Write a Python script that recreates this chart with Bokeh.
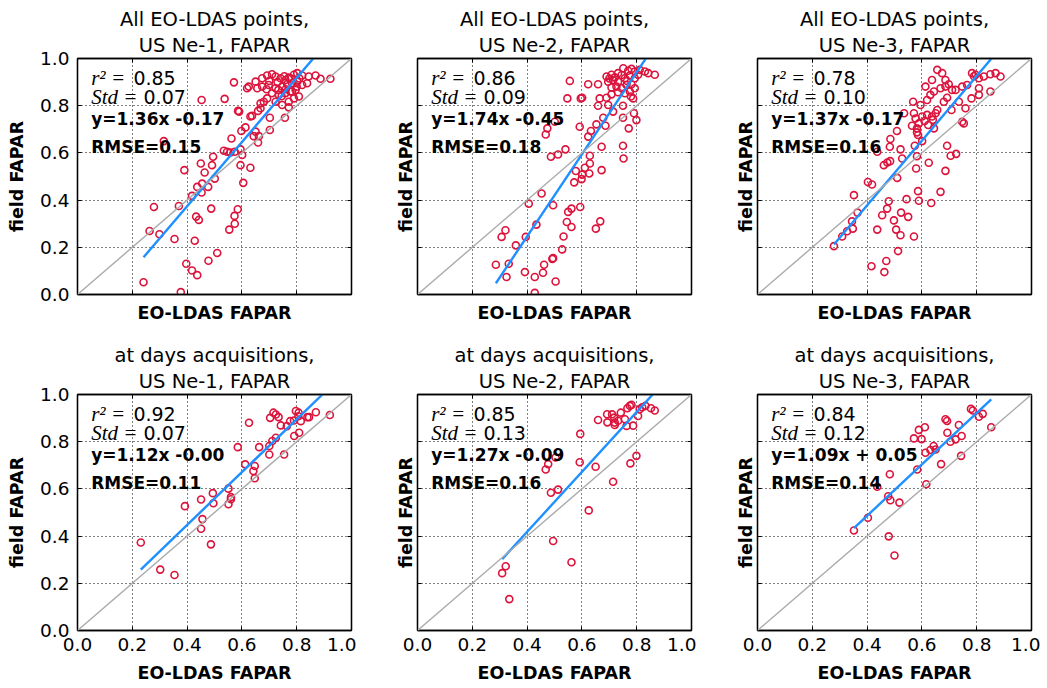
from bokeh.plotting import figure
from bokeh.layouts import gridplot
from bokeh.models import Range1d, FixedTicker, LinearAxis, Title, Slope, PrintfTickFormatter
from bokeh.core.properties import value
from bokeh.embed import file_html
from bokeh.resources import INLINE

# ---------------- data ----------------
sites = ["US Ne-1", "US Ne-2", "US Ne-3"]
row_titles = ["All EO-LDAS points,", "at days acquisitions,"]
x_label = "EO-LDAS FAPAR"
y_label = "field FAPAR"
r2 = [0.85, 0.86, 0.78, 0.92, 0.85, 0.84]
std = [0.07, 0.09, 0.10, 0.07, 0.13, 0.12]
slope = [1.36, 1.74, 1.37, 1.12, 1.27, 1.09]
intercept = [-0.17, -0.45, -0.17, -0.001, -0.09, 0.05]
rmse = [0.15, 0.18, 0.16, 0.11, 0.16, 0.14]
ticks = [0.0, 0.2, 0.4, 0.6, 0.8, 1.0]

pts_all_ne1 = [
    (0.571, 0.899), (0.453, 0.824), (0.537, 0.829), (0.586, 0.778), (0.590, 0.775), (0.631, 0.754),
    (0.637, 0.757), (0.659, 0.778), (0.619, 0.874), (0.625, 0.881), (0.613, 0.708), (0.598, 0.693),
    (0.650, 0.690), (0.662, 0.671), (0.659, 0.644), (0.643, 0.671), (0.702, 0.697), (0.562, 0.661),
    (0.315, 0.650), (0.534, 0.609), (0.546, 0.605), (0.558, 0.602), (0.574, 0.605), (0.595, 0.615),
    (0.601, 0.591), (0.495, 0.584), (0.595, 0.548), (0.631, 0.537), (0.450, 0.555), (0.491, 0.548),
    (0.390, 0.527), (0.464, 0.517), (0.501, 0.491), (0.455, 0.470), (0.437, 0.456), (0.477, 0.456),
    (0.605, 0.473), (0.453, 0.432), (0.418, 0.418), (0.370, 0.375), (0.279, 0.371), (0.488, 0.364),
    (0.585, 0.361), (0.573, 0.333), (0.433, 0.330), (0.443, 0.316), (0.574, 0.300), (0.554, 0.275),
    (0.263, 0.269), (0.299, 0.255), (0.354, 0.235), (0.428, 0.228), (0.510, 0.176), (0.478, 0.143),
    (0.397, 0.130), (0.418, 0.102), (0.437, 0.082), (0.241, 0.052), (0.377, 0.010), (0.757, 0.749),
    (0.702, 0.749), (0.668, 0.789), (0.680, 0.817), (0.692, 0.831), (0.650, 0.902), (0.674, 0.916),
    (0.692, 0.928), (0.710, 0.933), (0.723, 0.924), (0.741, 0.916), (0.759, 0.909), (0.771, 0.919),
    (0.790, 0.931), (0.802, 0.938), (0.820, 0.928), (0.844, 0.924), (0.869, 0.928), (0.887, 0.914),
    (0.923, 0.914), (0.656, 0.874), (0.674, 0.881), (0.698, 0.888), (0.723, 0.874), (0.747, 0.881),
    (0.765, 0.891), (0.783, 0.895), (0.802, 0.902), (0.820, 0.888), (0.838, 0.895), (0.710, 0.853),
    (0.735, 0.846), (0.759, 0.853), (0.777, 0.860), (0.796, 0.867), (0.723, 0.817), (0.747, 0.803),
    (0.771, 0.817), (0.790, 0.831), (0.808, 0.839), (0.668, 0.810), (0.771, 0.793), (0.783, 0.860),
    (0.733, 0.867), (0.700, 0.905), (0.730, 0.900), (0.755, 0.925), (0.780, 0.915), (0.810, 0.915),
    (0.690, 0.870), (0.760, 0.870), (0.745, 0.840), (0.800, 0.880),
]
pts_all_ne2 = [
    (0.556, 0.905), (0.623, 0.891), (0.659, 0.891), (0.547, 0.831), (0.596, 0.831), (0.601, 0.834),
    (0.665, 0.831), (0.659, 0.800), (0.696, 0.803), (0.708, 0.848), (0.690, 0.834), (0.750, 0.800),
    (0.779, 0.839), (0.787, 0.831), (0.714, 0.775), (0.790, 0.768), (0.678, 0.749), (0.750, 0.749),
    (0.799, 0.739), (0.501, 0.732), (0.474, 0.704), (0.468, 0.678), (0.592, 0.711), (0.653, 0.721),
    (0.686, 0.715), (0.633, 0.693), (0.623, 0.669), (0.771, 0.704), (0.672, 0.626), (0.750, 0.630),
    (0.540, 0.615), (0.513, 0.593), (0.487, 0.584), (0.629, 0.588), (0.752, 0.576), (0.629, 0.555),
    (0.611, 0.537), (0.578, 0.523), (0.672, 0.527), (0.601, 0.508), (0.627, 0.513), (0.599, 0.489),
    (0.572, 0.475), (0.453, 0.428), (0.406, 0.385), (0.495, 0.378), (0.562, 0.364), (0.550, 0.350),
    (0.594, 0.371), (0.667, 0.310), (0.651, 0.279), (0.545, 0.307), (0.562, 0.286), (0.434, 0.296),
    (0.321, 0.272), (0.307, 0.244), (0.395, 0.244), (0.359, 0.208), (0.533, 0.246), (0.528, 0.191),
    (0.495, 0.154), (0.492, 0.151), (0.333, 0.130), (0.286, 0.126), (0.462, 0.126), (0.458, 0.092),
    (0.392, 0.095), (0.325, 0.074), (0.428, 0.074), (0.504, 0.055), (0.428, 0.007), (0.690, 0.924),
    (0.708, 0.931), (0.732, 0.938), (0.751, 0.959), (0.769, 0.948), (0.781, 0.956), (0.793, 0.945),
    (0.811, 0.952), (0.830, 0.945), (0.842, 0.938), (0.866, 0.931), (0.696, 0.902), (0.714, 0.909),
    (0.732, 0.902), (0.757, 0.916), (0.775, 0.928), (0.793, 0.916), (0.805, 0.931), (0.708, 0.877),
    (0.726, 0.881), (0.745, 0.874), (0.763, 0.888), (0.781, 0.891), (0.793, 0.874), (0.732, 0.857),
    (0.757, 0.853), (0.775, 0.860), (0.720, 0.920), (0.745, 0.930), (0.765, 0.905), (0.700, 0.915),
]
pts_all_ne3 = [
    (0.279, 0.205), (0.309, 0.246), (0.327, 0.268), (0.348, 0.279), (0.345, 0.310), (0.365, 0.347),
    (0.352, 0.421), (0.403, 0.477), (0.418, 0.466), (0.437, 0.605), (0.461, 0.548), (0.474, 0.559),
    (0.484, 0.565), (0.485, 0.659), (0.483, 0.626), (0.522, 0.615), (0.509, 0.693), (0.528, 0.576),
    (0.510, 0.494), (0.479, 0.395), (0.473, 0.364), (0.455, 0.336), (0.498, 0.314), (0.524, 0.347),
    (0.550, 0.329), (0.544, 0.404), (0.437, 0.275), (0.506, 0.275), (0.522, 0.251), (0.571, 0.246),
    (0.513, 0.184), (0.416, 0.120), (0.470, 0.142), (0.463, 0.095), (0.586, 0.438), (0.589, 0.397),
    (0.634, 0.388), (0.668, 0.435), (0.686, 0.524), (0.579, 0.534), (0.625, 0.558), (0.582, 0.586),
    (0.574, 0.630), (0.601, 0.650), (0.692, 0.630), (0.725, 0.596), (0.705, 0.588), (0.582, 0.687),
    (0.582, 0.704), (0.586, 0.676), (0.564, 0.715), (0.589, 0.725), (0.601, 0.754), (0.619, 0.761),
    (0.637, 0.754), (0.650, 0.768), (0.656, 0.782), (0.577, 0.746), (0.571, 0.768), (0.595, 0.803),
    (0.619, 0.824), (0.631, 0.846), (0.644, 0.860), (0.668, 0.874), (0.686, 0.881), (0.710, 0.867),
    (0.613, 0.881), (0.637, 0.909), (0.656, 0.952), (0.674, 0.938), (0.686, 0.909), (0.698, 0.891),
    (0.723, 0.867), (0.747, 0.881), (0.765, 0.888), (0.783, 0.938), (0.796, 0.931), (0.808, 0.916),
    (0.826, 0.924), (0.850, 0.933), (0.869, 0.938), (0.887, 0.924), (0.808, 0.874), (0.850, 0.860),
    (0.808, 0.846), (0.781, 0.831), (0.759, 0.789), (0.747, 0.732), (0.753, 0.725), (0.708, 0.782),
    (0.692, 0.834), (0.623, 0.718), (0.644, 0.704), (0.680, 0.817), (0.568, 0.817), (0.535, 0.768),
    (0.735, 0.817), (0.640, 0.740), (0.610, 0.735), (0.790, 0.925),
]
pts_acq_ne1 = [
    (0.231, 0.373), (0.302, 0.258), (0.354, 0.235), (0.392, 0.527), (0.451, 0.555), (0.451, 0.431),
    (0.456, 0.472), (0.487, 0.365), (0.494, 0.582), (0.496, 0.539), (0.551, 0.601), (0.551, 0.535),
    (0.560, 0.556), (0.560, 0.565), (0.585, 0.777), (0.612, 0.704), (0.626, 0.880), (0.642, 0.676),
    (0.647, 0.697), (0.647, 0.645), (0.663, 0.777), (0.700, 0.746), (0.700, 0.782), (0.703, 0.901),
    (0.715, 0.923), (0.724, 0.915), (0.734, 0.904), (0.711, 0.803), (0.724, 0.817), (0.742, 0.869),
    (0.754, 0.746), (0.776, 0.887), (0.791, 0.824), (0.797, 0.930), (0.807, 0.923), (0.809, 0.838),
    (0.815, 0.887), (0.839, 0.904), (0.845, 0.904), (0.870, 0.925), (0.921, 0.913), (0.764, 0.866),
    (0.790, 0.890), (0.806, 0.908),
]
pts_acq_ne2 = [
    (0.335, 0.133), (0.309, 0.243), (0.322, 0.272), (0.495, 0.379), (0.562, 0.289), (0.625, 0.509),
    (0.487, 0.584), (0.513, 0.597), (0.468, 0.682), (0.477, 0.705), (0.504, 0.733), (0.592, 0.713),
    (0.594, 0.833), (0.650, 0.694), (0.714, 0.630), (0.777, 0.708), (0.799, 0.740), (0.659, 0.892),
    (0.692, 0.916), (0.710, 0.916), (0.693, 0.882), (0.720, 0.881), (0.720, 0.871), (0.742, 0.923),
    (0.732, 0.889), (0.757, 0.895), (0.766, 0.942), (0.775, 0.952), (0.781, 0.956), (0.763, 0.867),
    (0.787, 0.868), (0.811, 0.938), (0.820, 0.946), (0.832, 0.952), (0.852, 0.942), (0.866, 0.932),
    (0.805, 0.909), (0.718, 0.902),
]
pts_acq_ne3 = [
    (0.352, 0.424), (0.403, 0.478), (0.437, 0.609), (0.479, 0.399), (0.500, 0.318), (0.483, 0.662),
    (0.477, 0.569), (0.485, 0.552), (0.518, 0.542), (0.583, 0.682), (0.616, 0.620), (0.571, 0.814),
    (0.589, 0.850), (0.599, 0.811), (0.611, 0.861), (0.613, 0.753), (0.631, 0.765), (0.643, 0.782),
    (0.650, 0.767), (0.670, 0.705), (0.686, 0.895), (0.692, 0.888), (0.693, 0.838), (0.704, 0.800),
    (0.723, 0.810), (0.745, 0.824), (0.735, 0.871), (0.743, 0.740), (0.779, 0.939), (0.786, 0.932),
    (0.808, 0.906), (0.822, 0.918), (0.853, 0.861),
]
panels = [pts_all_ne1, pts_all_ne2, pts_all_ne3, pts_acq_ne1, pts_acq_ne2, pts_acq_ne3]

# ---------------- style ----------------
FONT = "DejaVu Sans"
FW, FH = 274, 236
lefts = [77, 61, 61]
rights = [5, 5, 9]
tops = [58, 60]
bottoms = [40, 56]
RED = "#DC143C"
BLUE = "#1E90FF"


def style_axis(ax, labels, standoff, label_standoff):
    ax.ticker = FixedTicker(ticks=ticks)
    ax.formatter = PrintfTickFormatter(format="%.1f")
    ax.major_tick_in = 4
    ax.major_tick_out = 0
    ax.major_tick_line_color = "black"
    ax.major_tick_line_width = 1
    ax.minor_tick_line_color = None
    ax.axis_line_color = "black"
    ax.axis_line_width = 1.3
    ax.major_label_text_font = FONT
    if labels:
        ax.major_label_text_color = "black"
        ax.major_label_text_font_size = "18.5px"
    else:
        ax.major_label_text_color = None
        ax.major_label_text_font_size = "0px"
    ax.major_label_standoff = standoff
    ax.axis_label_text_font = FONT
    ax.axis_label_text_font_style = "bold"
    ax.axis_label_text_font_size = "17.5px"
    ax.axis_label_text_color = "black"
    ax.axis_label_standoff = label_standoff


figs = []
for i, pts in enumerate(panels):
    r, c = divmod(i, 3)
    xs = [p[0] for p in pts]
    ys = [p[1] for p in pts]
    p = figure(frame_width=FW, frame_height=FH,
               x_range=Range1d(0, 1), y_range=Range1d(0, 1),
               output_backend="svg", toolbar_location=None, title=None,
               min_border_left=lefts[c], min_border_right=rights[c],
               min_border_top=tops[r], min_border_bottom=bottoms[r],
               x_axis_label=x_label, y_axis_label=y_label)
    p.background_fill_color = "white"
    p.border_fill_color = "white"
    p.outline_line_color = "black"
    p.outline_line_width = 1.3

    style_axis(p.xaxis[0], r == 1, 7, 9 if r == 1 else 8)
    style_axis(p.yaxis[0], c == 0, 8, 10 if c == 0 else 2)

    for loc in ("above", "right"):
        ax = LinearAxis()
        style_axis(ax, False, 0, 0)
        p.add_layout(ax, loc)

    p.add_layout(Title(text=sites[c] + ", FAPAR", align="center", text_font=FONT,
                       text_font_size="19.5px", text_font_style="normal",
                       text_color="black", standoff=3), "above")
    p.add_layout(Title(text=row_titles[r], align="center", text_font=FONT,
                       text_font_size="19.5px", text_font_style="normal",
                       text_color="black", standoff=0), "above")

    p.grid.ticker = FixedTicker(ticks=ticks)
    p.grid.grid_line_color = "black"
    p.grid.grid_line_dash = "1 3"
    p.grid.grid_line_width = 1

    p.add_layout(Slope(gradient=1, y_intercept=0, line_color="#aaaaaa", line_width=1.4))

    p.scatter(xs, ys, marker="circle", size=7, fill_color=None,
              line_color=RED, line_width=1.6)

    x0, x1 = min(xs), max(xs)
    p.line([x0, x1], [slope[i] * x0 + intercept[i], slope[i] * x1 + intercept[i]],
           line_color=BLUE, line_width=2.4)

    b = intercept[i]
    fit_txt = "y=%.2fx %s" % (slope[i], ("+ %.2f" % b) if b >= 0 else ("%.2f" % b))
    p.text(x=[0.05, 0.05], y=[0.919, 0.837], text=["r² =", "Std ="],
           text_font=value("Liberation Serif"), text_font_style="italic",
           text_font_size="21px", text_baseline="alphabetic", text_color="black")
    p.text(x=[0.204, 0.241], y=[0.919, 0.837], text=["%.2f" % r2[i], "%.2f" % std[i]],
           text_font=value(FONT), text_font_size="19px", text_baseline="alphabetic",
           text_color="black")
    p.text(x=[0.05, 0.05], y=[0.743, 0.624], text=[fit_txt, "RMSE=%.2f" % rmse[i]],
           text_font=value(FONT), text_font_style="bold", text_font_size="17px",
           text_baseline="alphabetic", text_color="black")
    figs.append(p)

grid = gridplot([figs[0:3], figs[3:6]], toolbar_location=None)
open("out.html", "w").write(file_html(grid, INLINE))
